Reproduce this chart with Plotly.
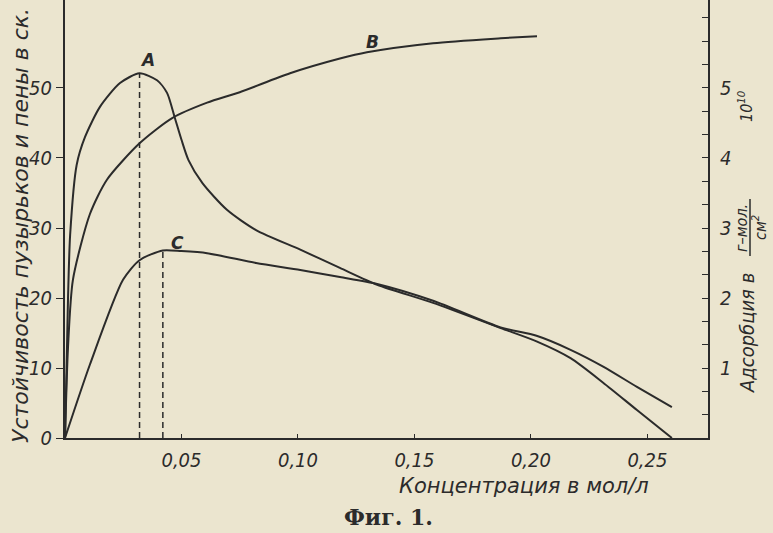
import plotly.graph_objects as go

# ---- data ----
conc_A = [0, 0.0008, 0.0013, 0.0022, 0.005, 0.0086, 0.015, 0.0236, 0.032, 0.0395, 0.0438,
          0.047, 0.050, 0.053, 0.059, 0.0695, 0.082, 0.101, 0.118, 0.134, 0.158, 0.187,
          0.2024, 0.217, 0.231, 0.2455, 0.2605]
stab_A = [0, 12, 20, 29, 39, 43, 47.3, 50.7, 52.1, 51.1, 49.3,
          45.9, 42.6, 39.7, 36.4, 32.6, 29.7, 26.9, 24.3, 21.9, 19.3, 15.7,
          13.8, 11.4, 7.9, 4.0, 0]

conc_C = [0, 0.0107, 0.0249, 0.032, 0.042, 0.050, 0.061, 0.082, 0.101, 0.118, 0.134,
          0.158, 0.187, 0.2024, 0.217, 0.231, 0.2455, 0.2605]
stab_C = [0, 10.5, 22.6, 25.4, 26.8, 26.7, 26.4, 25.0, 24.0, 23.0, 22.0,
          19.6, 15.8, 14.6, 12.6, 10.2, 7.3, 4.4]

conc_B = [0, 0.0013, 0.0034, 0.0107, 0.018, 0.032, 0.046, 0.061, 0.075, 0.0966, 0.118,
          0.1296, 0.158, 0.187, 0.2026]
ads_B = [0, 1.3, 2.26, 3.2, 3.69, 4.21, 4.57, 4.79, 4.94, 5.21, 5.42,
         5.51, 5.64, 5.71, 5.74]

dash_x = [0.032, 0.042]
dash_top = [52.1, 26.8]

x_tickvals = [0.05, 0.10, 0.15, 0.20, 0.25]
x_ticktext = ["0,05", "0,10", "0,15", "0,20", "0,25"]
y_tickvals = [0, 10, 20, 30, 40, 50]
y2_tickvals = [1, 2, 3, 4, 5]

INK = "#2b2b2b"
PAPER = "#ebe5cf"
FONT = "DejaVu Sans Condensed, DejaVu Sans, sans-serif"
WIDE = "DejaVu Sans, sans-serif"

fig = go.Figure()
line = dict(color=INK, width=2, shape="spline", smoothing=0.7)
fig.add_trace(go.Scatter(x=conc_A, y=stab_A, mode="lines", line=line, name="A"))
fig.add_trace(go.Scatter(x=conc_C, y=stab_C, mode="lines", line=line, name="C"))
fig.add_trace(go.Scatter(x=conc_B, y=ads_B, mode="lines", line=line, name="B", yaxis="y2"))
for dx, dt in zip(dash_x, dash_top):
    fig.add_trace(go.Scatter(x=[dx, dx], y=[0, dt], mode="lines",
                             line=dict(color=INK, width=1.5, dash="6px,4px")))

lab_font = dict(family=WIDE, size=17, color=INK, style="italic", weight="bold")
fig.add_annotation(x=0.0355, y=54.0, text="A", showarrow=False, font=lab_font,
                   xanchor="center", yanchor="middle")
fig.add_annotation(x=0.0485, y=27.9, text="C", showarrow=False, font=lab_font,
                   xanchor="center", yanchor="middle")
fig.add_annotation(x=0.132, y=5.66, yref="y2", text="B", showarrow=False, font=lab_font,
                   xanchor="center", yanchor="middle")


def px(xp):
    return (xp - 65) / 643


def py(yp):
    return (438 - yp) / 438


def note(x, y, text, font, angle=0):
    fig.add_annotation(xref="paper", yref="paper", x=px(x), y=py(y), text=text,
                       textangle=angle, showarrow=False, font=font,
                       xanchor="center", yanchor="middle")


note(20, 226, "Устойчивость пузырьков и пены в ск.",
     dict(family=WIDE, size=22, color=INK, style="italic"), -90)
note(524, 486, "Концентрация в мол/л", dict(family=WIDE, size=21, color=INK, style="italic"))
note(747, 333, "Адсорбция в", dict(family=FONT, size=20, color=INK, style="italic"), -90)
ff = dict(family=FONT, size=16, color=INK, style="italic")
note(741, 228, "г–мол.", ff, -90)
note(759, 228, "см<sup>2</sup>", ff, -90)
fig.add_shape(type="line", xref="paper", yref="paper", x0=px(750), x1=px(750),
              y0=py(256), y1=py(199), line=dict(color=INK, width=1.5))
note(745, 106, "10<sup>10</sup>", ff, -90)
note(388, 517, "Фиг. 1.", dict(family="DejaVu Serif, serif", size=22, color=INK, weight="bold"))

tick_font = dict(family=FONT, size=20, color=INK, style="italic")
fig.update_layout(
    width=773, height=533,
    margin=dict(l=65, r=65, t=0, b=95, pad=0),
    paper_bgcolor=PAPER, plot_bgcolor=PAPER,
    showlegend=False,
    xaxis=dict(range=[0, 0.276], showgrid=False, zeroline=False, showline=True,
               linecolor=INK, linewidth=2, ticks="inside", ticklen=4, tickcolor=INK,
               tickvals=x_tickvals, ticktext=x_ticktext, tickfont=tick_font,
               ticklabelstandoff=3),
    yaxis=dict(range=[0, 62.57], showgrid=False, zeroline=False, showline=True,
               linecolor=INK, linewidth=2, ticks="outside", ticklen=7, tickcolor=INK,
               tickvals=y_tickvals, tickfont=tick_font),
    yaxis2=dict(range=[0, 6.257], overlaying="y", side="right", showgrid=False,
                zeroline=False, showline=True, linecolor=INK, linewidth=2,
                ticks="inside", ticklen=6, tickcolor=INK, tickvals=y2_tickvals,
                tickfont=tick_font, ticklabelstandoff=6,
                minor=dict(dtick=1 / 3, tick0=0, ticks="inside", ticklen=6, tickcolor=INK)),
)

fig.write_html("out.html", config={"displayModeBar": False},
               post_script="document.body.style.margin='0';"
                           "document.body.style.background='" + PAPER + "';")
